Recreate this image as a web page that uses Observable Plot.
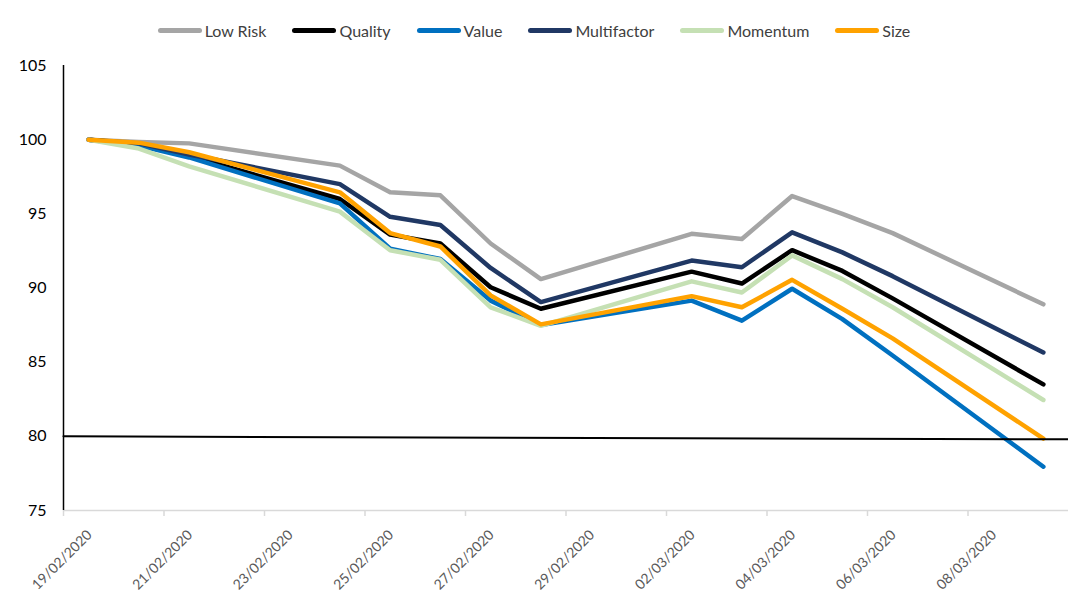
<!DOCTYPE html>
<html><head><meta charset="utf-8">
<script src="https://cdn.jsdelivr.net/npm/d3@7"></script>
<script src="https://cdn.jsdelivr.net/npm/@observablehq/plot@0.6"></script>
<style>
body{margin:0;background:#fff;font-family:Lato,"Open Sans",sans-serif;}
#legend{height:50px;box-sizing:border-box;padding-top:10px;display:flex;justify-content:center;align-items:center;}
.item{display:flex;align-items:center;margin:0 13px;font-size:16px;color:#404040;}
.sw{width:44px;height:5px;border-radius:3px;margin-right:3px;}
</style></head><body>
<div id="legend"></div>
<div id="chart"></div>
<script>
const dates = ["2020-02-19","2020-02-20","2020-02-21","2020-02-24","2020-02-25","2020-02-26","2020-02-27","2020-02-28","2020-03-02","2020-03-03","2020-03-04","2020-03-05","2020-03-06","2020-03-09"];
const lowRisk     = [100, 99.85, 99.75, 98.25, 96.45, 96.25, 93.0, 90.6, 93.65, 93.3, 96.2, 95.0, 93.7, 88.9];
const quality     = [100, 99.7, 98.9, 96.0, 93.6, 93.0, 90.05, 88.6, 91.1, 90.3, 92.55, 91.15, 89.3, 83.5];
const value       = [100, 99.6, 98.8, 95.7, 92.65, 91.95, 89.15, 87.5, 89.15, 87.8, 89.95, 87.9, 85.45, 77.95];
const multifactor = [100, 99.75, 99.0, 97.0, 94.8, 94.25, 91.35, 89.05, 91.85, 91.4, 93.75, 92.4, 90.8, 85.65];
const momentum    = [100, 99.4, 98.2, 95.15, 92.55, 91.9, 88.7, 87.45, 90.45, 89.7, 92.2, 90.6, 88.7, 82.45];
const size        = [100, 99.8, 99.15, 96.45, 93.7, 92.8, 89.5, 87.55, 89.45, 88.7, 90.55, 88.6, 86.6, 79.85];

const seriesNames  = ["Low Risk","Quality","Value","Multifactor","Momentum","Size"];
const seriesValues = [lowRisk, quality, value, multifactor, momentum, size];
const seriesColors = ["#a5a5a5","#000000","#0070c0","#203864","#c5e0b4","#ffa200"];

const yTicks = [75,80,85,90,95,100,105];
const xTickLabels = ["19/02/2020","21/02/2020","23/02/2020","25/02/2020","27/02/2020","29/02/2020","02/03/2020","04/03/2020","06/03/2020","08/03/2020"];
const xDomain = ["2020-02-19","2020-03-10"];
const refLineDates = ["2020-02-19","2020-03-10"];
const refLineValues = [80, 79.8];

const parse = d3.utcParse("%Y-%m-%d");
const parseLabel = d3.utcParse("%d/%m/%Y");
const HALF_DAY = 12*3600*1000;

const rows = [];
seriesNames.forEach((name, i) => {
  seriesValues[i].forEach((v, j) => rows.push({series: name, date: new Date(+parse(dates[j]) + HALF_DAY), value: v}));
});
const refRows = refLineDates.map((d, i) => ({date: parse(d), value: refLineValues[i]}));
const tickRows = xTickLabels.map(l => ({date: parseLabel(l), label: l}));

// legend
const legend = document.getElementById("legend");
seriesNames.forEach((n, i) => {
  const it = document.createElement("div"); it.className = "item";
  const sw = document.createElement("span"); sw.className = "sw"; sw.style.background = seriesColors[i];
  const tx = document.createElement("span"); tx.textContent = n;
  it.appendChild(sw); it.appendChild(tx); legend.appendChild(it);
});

const chart = Plot.plot({
  width: 1068,
  height: 545,
  marginTop: 15,
  marginBottom: 85,
  marginLeft: 63,
  marginRight: 0,
  style: {fontFamily: "Lato, 'Open Sans', sans-serif", background: "#fff"},
  x: {type: "utc", domain: xDomain.map(parse), axis: null},
  y: {domain: [75, 105], axis: null},
  color: {domain: seriesNames, range: seriesColors},
  marks: [
    Plot.ruleY([75], {stroke: "#d9d9d9", strokeWidth: 1.5}),
    Plot.axisX({ticks: tickRows.map(d => d.date), tickSize: 6, tickFormat: () => "", label: null, stroke: "#d9d9d9", strokeWidth: 1.5}),
    Plot.text(tickRows, {x: "date", frameAnchor: "bottom", text: "label", rotate: -45, textAnchor: "end", lineAnchor: "middle", dx: 26, dy: 22, fill: "#595959", fontSize: 14}),
    Plot.axisY({ticks: yTicks, tickSize: 0, tickPadding: 17, fontSize: 16, fill: "#000", label: null}),
    Plot.ruleX([parse(xDomain[0])], {y1: 75, y2: 105, stroke: "#000", strokeWidth: 1.5}),
    Plot.lineY(rows, {x: "date", y: "value", z: "series", stroke: "series", strokeWidth: 4.5, strokeLinecap: "round", strokeLinejoin: "round"}),
    Plot.line(refRows, {x: "date", y: "value", stroke: "#000", strokeWidth: 2})
  ]
});
document.getElementById("chart").appendChild(chart);
</script>
</body></html>
